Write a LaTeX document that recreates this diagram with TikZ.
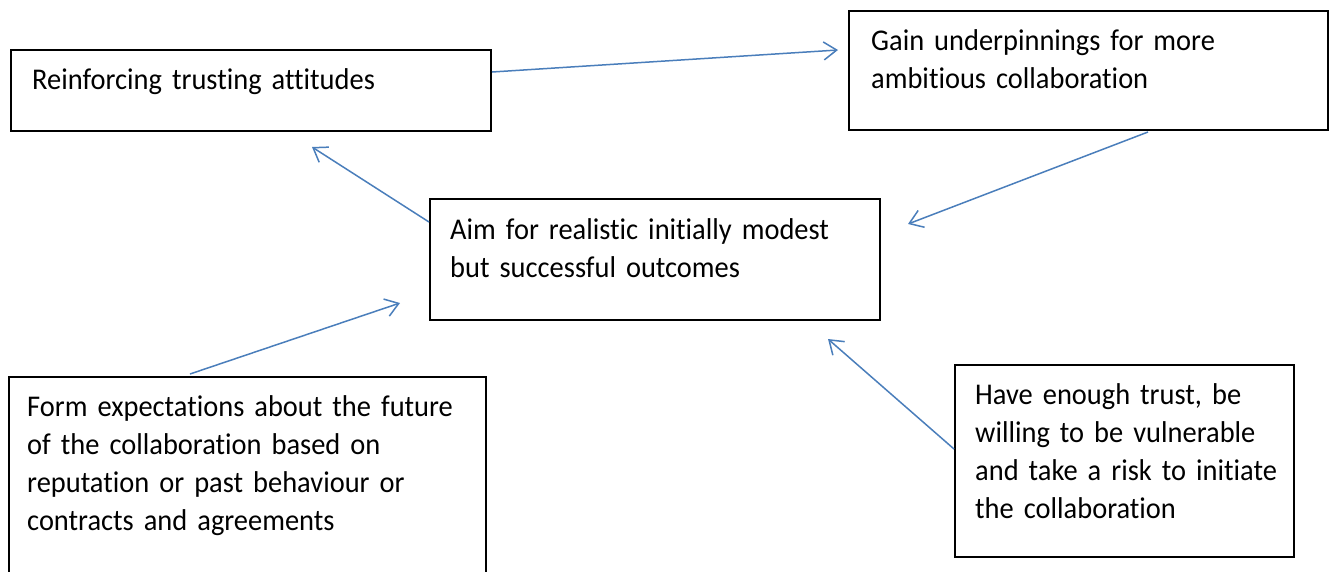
\documentclass[tikz,border=0pt]{standalone}
\usepackage{fontspec}
\setmainfont{Carlito}[Ligatures=NoCommon, FakeStretch=0.945]
\usetikzlibrary{arrows.meta,calc}
\definecolor{conn}{HTML}{4A7EBB}
\newcommand{\boxtextfont}{\fontsize{30.1}{38}\selectfont}
\tikzset{
  boxnode/.style={draw=black, line width=2pt, fill=white, inner sep=0pt},
  txt/.style={font=\boxtextfont, inner sep=0pt, align=left, text width=#1},
  txt/.default=440pt,
  conn/.style={draw=conn, line width=1.5pt, -{Straight Barb[length=13pt, width=18pt, line width=1.5pt]}}
}
\begin{document}
\begin{tikzpicture}[x=1pt, y=-1pt]
\useasboundingbox (0,0) rectangle (1331,571);
% boxes
\node[boxnode, minimum width=480pt, minimum height=81pt] (A) at (251,90.5) {};
\node[boxnode, minimum width=479pt, minimum height=119pt] (B) at (1088.5,70.5) {};
\node[boxnode, minimum width=450pt, minimum height=121pt] (C) at (655,259.5) {};
\node[boxnode, minimum width=477pt, minimum height=210pt] (D) at (247.5,482) {};
\node[boxnode, minimum width=339pt, minimum height=192pt] (E) at (1124.5,461) {};
% texts
\node[txt=440pt, anchor=base west] (At) at (32,89) {Reinforcing trusting attitudes};
\node[txt=440pt, anchor=base west] (Bt) at (871,50) {Gain underpinnings for more\\ambitious collaboration};
\node[txt=420pt, anchor=base west] (Ct) at (450,239) {Aim for realistic initially modest\\but successful outcomes};
\node[txt=450pt, anchor=base west] (Dt) at (27,416) {Form expectations about the future\\of the collaboration based on\\reputation or past behaviour or\\contracts and agreements};
\node[txt=310pt, anchor=base west] (Et) at (975,404) {Have enough trust, be\\willing to be vulnerable\\and take a risk to initiate\\the collaboration};
% free arrow tips
\coordinate (tAB) at (838,50);
\coordinate (tBC) at (908,224);
\coordinate (tCA) at (312,147);
\coordinate (tDC) at (400,303);
\coordinate (tEC) at (828,339);
% connectors
\draw[conn] ($(A.east)+(0,-18.5)$) -- (tAB);
\draw[conn] ($(B.south)+(59.5,1)$) -- (tBC);
\draw[conn] ($(C.west)+(0,-37.5)$) -- (tCA);
\draw[conn] ($(D.north)+(-57.5,-2)$) -- (tDC);
\draw[conn] ($(E.west)+(0,-12)$) -- (tEC);
\end{tikzpicture}
\end{document}
